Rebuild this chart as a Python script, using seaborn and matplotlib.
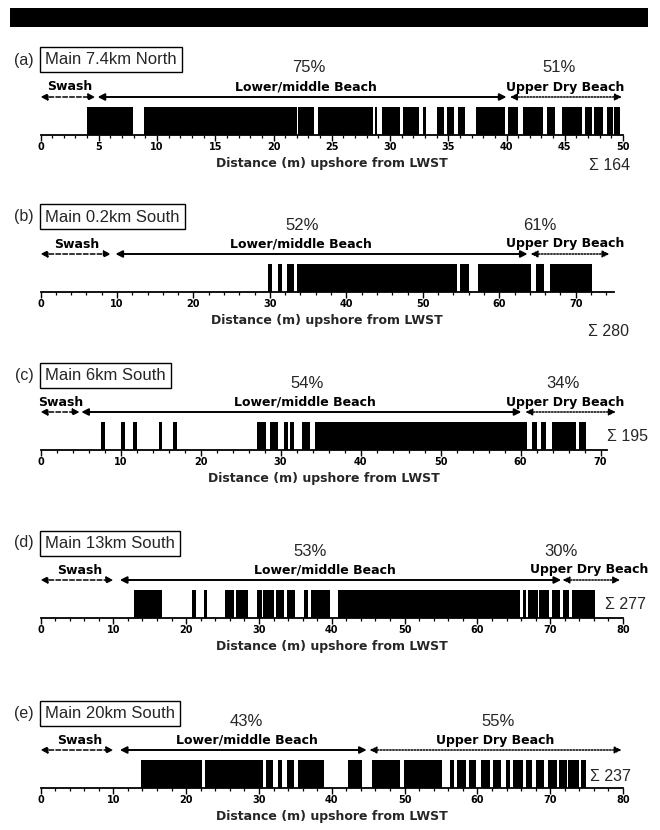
import matplotlib
matplotlib.use("Agg")
import matplotlib.pyplot as plt
import matplotlib.transforms as mtrans
from matplotlib.patches import Rectangle
from matplotlib.ticker import MultipleLocator
import numpy as np
import pandas as pd
import seaborn as sns

# occupied stretches along the transect, (start, end) in m upshore from LWST
SEG_A = [(4.0, 7.9), (8.9, 22.0), (22.1, 23.5), (23.8, 28.5), (28.7, 28.9),
         (29.3, 30.9), (31.1, 32.5), (32.8, 33.1), (34.0, 34.6), (34.9, 35.5),
         (35.8, 36.4), (37.4, 39.9), (40.1, 41.0), (41.4, 43.1), (43.5, 44.2),
         (44.8, 46.5), (46.7, 47.3), (47.5, 48.3), (48.6, 49.1), (49.2, 49.7)]
SEG_B = [(29.7, 30.3), (31.1, 31.6), (32.3, 33.1), (33.5, 54.5), (54.9, 56.1),
         (57.2, 64.2), (64.8, 65.9), (66.6, 72.1)]
SEG_C = [(7.5, 8.0), (10.1, 10.5), (11.6, 12.0), (14.8, 15.2), (16.5, 17.1),
         (27.1, 28.2), (28.7, 29.7), (30.4, 30.9), (31.2, 31.7), (32.7, 33.7),
         (34.3, 60.8), (61.4, 62.1), (62.5, 63.2), (63.9, 66.9), (67.3, 68.2)]
SEG_D = [(12.8, 16.7), (20.8, 21.3), (22.4, 22.8), (25.3, 26.6), (26.8, 28.5),
         (29.8, 30.4), (30.5, 32.0), (32.3, 33.4), (33.8, 35.0), (36.2, 36.7),
         (37.1, 39.7), (40.8, 65.9), (66.2, 66.7), (67.0, 68.3), (68.5, 69.9),
         (70.2, 71.4), (71.8, 72.6), (73.0, 76.2)]
SEG_E = [(13.8, 22.2), (22.6, 30.6), (31.0, 31.9), (32.6, 33.1), (33.8, 34.8),
         (35.4, 38.9), (42.2, 44.2), (45.5, 49.4), (49.9, 55.2), (56.3, 56.8),
         (57.2, 58.4), (58.8, 59.8), (60.5, 61.7), (62.2, 63.2), (63.9, 64.5),
         (64.9, 66.2), (66.7, 67.5), (68.1, 69.1), (69.7, 70.9), (71.2, 72.3),
         (72.5, 73.1), (73.2, 74.0), (74.2, 74.9)]

TAGS = ["(a)", "(b)", "(c)", "(d)", "(e)"]
SITES = ["Main 7.4km North", "Main 0.2km South", "Main 6km South",
         "Main 13km South", "Main 20km South"]
LOWER_PCT = [75, 52, 54, 53, 43]
UPPER_PCT = [51, 61, 34, 30, 55]
TOTALS = [164, 280, 195, 277, 237]

# zone extents (start, end) in m
SWASH = [(0, 4.7), (0, 9.2), (0, 4.9), (0, 10.0), (0, 10.0)]
LOWER = [(4.9, 40.0), (9.8, 63.7), (5.1, 60.1), (10.9, 71.5), (10.9, 44.8)]
UPPER = [(40.3, 49.9), (64.1, 74.4), (60.6, 71.9), (71.7, 79.6), (45.2, 79.8)]

# layout (pixels / axis settings)
W, H = 660, 830
TOP_PX = [60, 217, 375, 543, 713]
XMAX = [50, 75, 70.8, 80, 80]
XTICK_MAX = [50, 70, 70, 80, 80]
RIGHT_PX = [623, 614, 607, 623, 623]
MAJOR = [5, 10, 10, 10, 10]
MINOR = [1, 2, 2, 2, 2]
SWASH_LBL = [2.5, 4.8, 2.5, 5.4, 5.4]
LOWER_LBL = [22.8, 34.0, 33.1, 39.0, 28.3]
UPPER_LBL = [45.0, 68.6, 65.6, 75.3, 62.5]
LOWER_PCT_X = [23.0, 34.2, 33.3, 37.0, 28.3]
UPPER_PCT_X = [44.5, 65.3, 65.3, 71.5, 62.9]
SUM_POS = [(589, 165), (588, 331), (607, 436), (605, 604), (590, 776)]

SEGMENTS = [SEG_A, SEG_B, SEG_C, SEG_D, SEG_E]

sns.set_theme(style="ticks")
plt.rcParams["font.family"] = ["DejaVu Sans"]
SANS = ["Liberation Sans", "DejaVu Sans"]


def fy(py):
    return 1 - py / H


def fx(px):
    return px / W


fig = plt.figure(figsize=(W / 100, H / 100), dpi=100)
fig.patch.set_facecolor("white")

# blacked-out header band
fig.add_artist(Rectangle((fx(10), fy(27)), fx(638), 19 / H,
                         transform=fig.transFigure, color="black", lw=0))

for i in range(5):
    L = TOP_PX[i]
    ax = fig.add_axes([fx(40.5), fy(L + 75), (RIGHT_PX[i] - 40.5) / W, 28 / H])
    ax.patch.set_alpha(0)
    df = pd.DataFrame(SEGMENTS[i], columns=["start", "end"])
    ax.bar(df["start"], np.ones(len(df)), width=df["end"] - df["start"],
           align="edge", color="black", linewidth=0)

    ax.set_xlim(0, XMAX[i])
    ax.set_ylim(0, 1)
    ax.set_yticks([])
    sns.despine(ax=ax, left=True, top=True, right=True)
    ax.spines["bottom"].set_linewidth(1.3)
    ax.spines["bottom"].set_color("black")
    ticks = np.arange(0, XTICK_MAX[i] + 0.01, MAJOR[i])
    ax.set_xticks(ticks)
    ax.set_xticklabels([f"{t:g}" for t in ticks], fontweight="bold", fontsize=7)
    ax.xaxis.set_minor_locator(MultipleLocator(MINOR[i]))
    ax.tick_params(axis="x", which="major", direction="out", length=4, width=1,
                   color="black", pad=1, labelcolor="black")
    ax.tick_params(axis="x", which="minor", direction="out", length=2.5,
                   width=0.9, color="black")

    tr = mtrans.blended_transform_factory(ax.transData, fig.transFigure)

    # zone arrows
    for (x0, x1), ls, lw in [(SWASH[i], (0, (3, 1.5)), 1.1),
                             (LOWER[i], "-", 1.4),
                             (UPPER[i], (0, (1, 1)), 1.1)]:
        ax.annotate("", xy=(x1, fy(L + 37)), xycoords=tr,
                    xytext=(x0, fy(L + 37)), textcoords=tr,
                    annotation_clip=False,
                    arrowprops=dict(arrowstyle="<|-|>,head_length=0.5,head_width=0.25",
                                    color="black", lw=lw, linestyle=ls,
                                    shrinkA=0, shrinkB=0, mutation_scale=8))

    for x, txt in [(SWASH_LBL[i], "Swash"), (LOWER_LBL[i], "Lower/middle Beach"),
                   (UPPER_LBL[i], "Upper Dry Beach")]:
        ax.text(x, fy(L + 27), txt, transform=tr, ha="center", va="center",
                fontsize=9, fontweight="bold", color="black", clip_on=False)

    ax.text(LOWER_PCT_X[i], fy(L + 8), f"{LOWER_PCT[i]}%", transform=tr,
            ha="center", va="center", fontsize=12, family=SANS, clip_on=False)
    ax.text(UPPER_PCT_X[i], fy(L + 8), f"{UPPER_PCT[i]}%", transform=tr,
            ha="center", va="center", fontsize=12, family=SANS, clip_on=False)

    ax.text(XMAX[i] / 2, fy(L + 103), "Distance (m) upshore from LWST",
            transform=tr, ha="center", va="center", fontsize=9,
            fontweight="bold", clip_on=False)

    # panel tag and site box
    fig.text(fx(24), fy(L), TAGS[i], ha="center", va="center",
             fontsize=11.5, family=SANS)
    fig.text(fx(45), fy(L), SITES[i], ha="left", va="center", fontsize=12,
             family=SANS,
             bbox=dict(boxstyle="square,pad=0.3", fc="white", ec="black", lw=1))

    sx, sy = SUM_POS[i]
    fig.text(fx(sx), fy(sy), f"\u03a3 {TOTALS[i]}", ha="left", va="center",
             fontsize=11.5, family=SANS)

fig.savefig("out.png", dpi=100, facecolor="white")
